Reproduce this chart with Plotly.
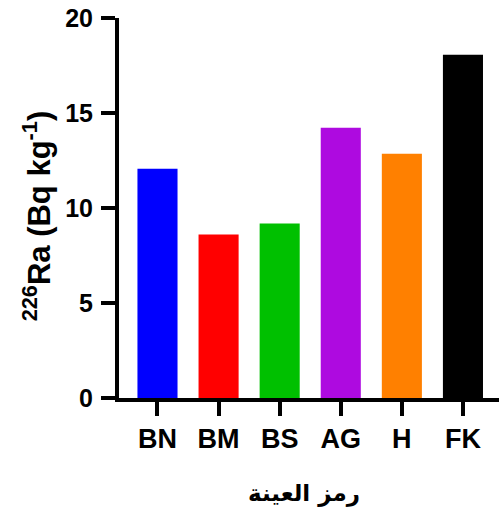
import plotly.graph_objects as go

categories = ["BN", "BM", "BS", "AG", "H", "FK"]
values = [12.07, 8.61, 9.19, 14.23, 12.86, 18.06]
colors = ["#0000FF", "#FF0000", "#00C000", "#AE0AE0", "#FF8000", "#000000"]
y_ticks = [0, 5, 10, 15, 20]

fig = go.Figure(go.Bar(x=categories, y=values, marker=dict(color=colors, line=dict(width=0)),
                       width=0.656))

fig.update_layout(
    width=499, height=509,
    margin=dict(l=119, r=0, t=18, b=111),
    plot_bgcolor="white", paper_bgcolor="white",
    showlegend=False,
    font=dict(family="Arial, Liberation Sans, DejaVu Sans", color="black"),
)
fig.update_xaxes(
    range=[-0.63, 5.59], showline=True, linecolor="black", linewidth=4,
    ticks="outside", ticklen=14, tickwidth=3.5, tickcolor="black",
    tickfont=dict(size=27, family="Arial", color="black", weight=700),
    showgrid=False, zeroline=False,
)
fig.update_yaxes(
    range=[0, 20], tickvals=y_ticks, showline=True, linecolor="black", linewidth=4,
    ticks="outside", ticklen=14, tickwidth=3.5, tickcolor="black",
    tickfont=dict(size=25, family="Arial", color="black", weight=700),
    showgrid=False, zeroline=False, ticklabelstandoff=3,
)
fig.add_annotation(
    text="<b><sup>226</sup>Ra (Bq kg<sup>-1</sup>)</b>", textangle=-90,
    xref="paper", yref="paper", x=-0.215, y=0.479, xanchor="center", yanchor="middle",
    showarrow=False, font=dict(size=31, family="Arial", color="black"),
)
fig.add_annotation(
    text="<b>رمز العينة</b>",
    xref="paper", yref="paper", x=0.487, y=-0.2526, xanchor="center", yanchor="middle",
    showarrow=False, font=dict(size=23, family="DejaVu Sans", color="black"),
)
fig.write_html("out.html")
